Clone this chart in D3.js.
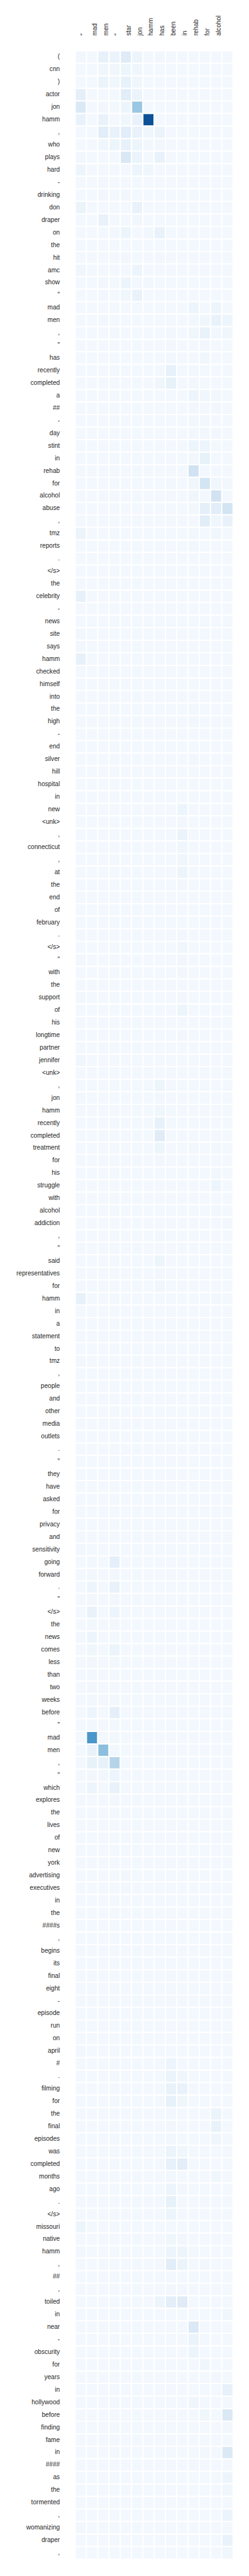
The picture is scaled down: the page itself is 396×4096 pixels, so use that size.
<!DOCTYPE html>
<html><head><meta charset="utf-8">
<script src="https://cdn.jsdelivr.net/npm/d3@7"></script>
<style>html,body{margin:0;padding:0;background:#fff;} svg{display:block;}</style>
</head><body><div id="chart"></div>
<script>
// Columns: summary tokens (last one has no visible label)
const colLabels = ["\"", "mad", "men", "\"", "star", "jon", "hamm", "has", "been", "in", "rehab", "for", "alcohol", ""];

// Rows: source article tokens
const rowLabels = ["(", "cnn", ")", "actor", "jon", "hamm", ",", "who", "plays", "hard",
"-", "drinking", "don", "draper", "on", "the", "hit", "amc", "show", "\"",
"mad", "men", ",", "\"", "has", "recently", "completed", "a", "##", "-",
"day", "stint", "in", "rehab", "for", "alcohol", "abuse", ",", "tmz", "reports",
".", "</s>", "the", "celebrity", "-", "news", "site", "says", "hamm", "checked",
"himself", "into", "the", "high", "-", "end", "silver", "hill", "hospital", "in",
"new", "<unk>", ",", "connecticut", ",", "at", "the", "end", "of", "february",
".", "</s>", "\"", "with", "the", "support", "of", "his", "longtime", "partner",
"jennifer", "<unk>", ",", "jon", "hamm", "recently", "completed", "treatment", "for", "his",
"struggle", "with", "alcohol", "addiction", ",", "\"", "said", "representatives", "for", "hamm",
"in", "a", "statement", "to", "tmz", ",", "people", "and", "other", "media",
"outlets", ".", "\"", "they", "have", "asked", "for", "privacy", "and", "sensitivity",
"going", "forward", ".", "\"", "</s>", "the", "news", "comes", "less", "than",
"two", "weeks", "before", "\"", "mad", "men", ",", "\"", "which", "explores",
"the", "lives", "of", "new", "york", "advertising", "executives", "in", "the", "####s",
",", "begins", "its", "final", "eight", "-", "episode", "run", "on", "april",
"#", ".", "filming", "for", "the", "final", "episodes", "was", "completed", "months",
"ago", ".", "</s>", "missouri", "native", "hamm", ",", "##", ",", "toiled",
"in", "near", "-", "obscurity", "for", "years", "in", "hollywood", "before", "finding",
"fame", "in", "####", "as", "the", "tormented", ",", "womanizing", "draper", ","];

// Attention weights (percent), one row per source token, one entry per column
const weights = [
[3,2,8,6,12,5,2,3,2,2,2,2,2,2],
[2,2,4,4,5,4,2,2,2,2,2,2,2,2],
[2,2,6,4,8,4,2,2,2,2,2,2,2,2],
[9,2,2,2,11,6,2,2,2,2,2,2,2,2],
[14,2,3,2,5,38,2,2,2,2,2,2,2,2],
[7,2,7,2,4,7,88,2,2,2,2,2,2,2],
[2,2,11,7,11,7,4,6,2,2,2,2,2,2],
[2,2,4,5,8,5,3,3,2,2,2,2,2,2],
[3,2,2,2,15,6,2,7,2,2,2,2,2,2],
[5,2,2,2,2,5,4,2,2,2,2,2,2,2],
[2,2,3,2,2,2,2,2,2,2,2,2,2,2],
[2,2,3,2,3,2,2,2,2,2,2,2,2,2],
[6,2,2,2,2,7,2,2,2,2,2,2,2,2],
[2,2,7,2,2,3,2,2,2,2,2,2,2,2],
[2,2,2,3,5,2,3,7,2,2,2,2,2,2],
[2,2,2,2,2,2,2,2,2,2,2,2,2,2],
[2,2,2,2,3,2,2,3,2,2,2,2,2,2],
[4,2,2,2,2,5,2,2,2,2,2,2,2,2],
[2,2,3,2,5,2,3,2,2,2,2,2,2,2],
[2,2,3,2,4,7,2,2,2,2,2,2,2,2],
[2,2,2,2,2,2,2,2,2,2,5,2,5,2],
[2,2,3,2,2,2,2,2,2,2,3,4,7,5],
[2,2,2,3,2,2,2,2,3,2,4,7,3,4],
[2,2,2,2,2,2,2,2,3,2,2,3,2,2],
[2,2,2,2,2,2,2,2,3,2,2,4,2,2],
[2,2,2,2,2,2,2,2,8,2,3,2,2,2],
[2,2,2,2,2,2,2,4,8,2,3,2,2,2],
[2,2,2,2,2,2,2,2,2,2,5,4,3,2],
[2,2,2,2,2,2,2,2,2,2,3,2,3,2],
[2,2,2,2,2,2,2,2,2,2,3,3,2,2],
[2,2,2,2,2,2,2,2,2,2,3,3,3,2],
[2,2,2,2,2,2,2,2,2,2,5,5,2,2],
[2,2,2,2,2,2,2,2,2,2,3,8,2,2],
[2,2,2,2,2,2,2,2,2,2,19,2,2,2],
[2,2,2,2,2,2,2,2,3,2,4,18,4,3],
[2,2,2,2,2,2,2,2,2,2,4,2,19,2],
[2,2,2,2,2,2,2,2,2,2,3,9,11,18],
[2,2,2,2,2,2,2,2,2,2,2,11,4,7],
[6,2,2,2,2,2,2,2,2,2,3,2,4,2],
[2,2,2,2,2,2,2,2,2,2,3,2,2,2],
[2,2,2,2,2,2,2,2,2,2,2,2,2,2],
[2,2,2,2,2,2,2,2,2,2,2,2,2,2],
[2,2,2,2,2,2,2,2,2,2,2,2,2,2],
[8,2,2,2,2,2,2,2,2,2,2,2,2,2],
[2,2,2,2,2,2,2,2,2,2,2,2,2,2],
[2,2,2,2,2,2,2,2,2,2,2,2,2,2],
[3,2,2,2,2,2,2,2,2,2,2,2,2,2],
[3,2,2,2,2,2,2,2,2,2,2,2,2,2],
[8,2,2,2,2,2,2,2,2,2,2,2,2,2],
[2,2,2,2,2,2,2,2,2,2,2,2,2,2],
[2,2,2,2,2,2,2,2,2,2,2,2,2,2],
[2,2,2,2,2,2,2,2,2,2,2,2,2,2],
[2,2,2,2,2,2,2,2,2,2,3,2,2,2],
[2,2,2,2,2,2,2,2,2,2,3,2,2,2],
[2,2,2,2,2,2,2,2,2,2,2,2,2,2],
[2,2,2,2,2,2,2,2,2,2,2,2,2,2],
[2,2,2,2,2,2,2,2,2,2,3,2,2,2],
[2,2,2,2,2,2,2,2,2,2,2,2,2,2],
[2,2,2,2,2,2,2,2,2,2,2,2,2,2],
[2,2,2,2,2,2,2,2,2,2,2,2,2,2],
[2,2,2,2,2,2,2,2,2,5,2,2,2,2],
[2,2,2,2,2,2,2,2,2,3,2,2,2,2],
[2,2,2,2,2,2,2,2,2,6,2,2,2,2],
[2,2,2,2,2,2,2,2,2,4,2,2,2,2],
[2,2,2,2,2,2,2,2,2,4,2,2,2,2],
[2,2,2,2,2,2,2,2,2,5,2,2,2,2],
[2,2,2,2,2,2,2,2,2,3,2,2,2,2],
[2,2,2,2,2,2,2,2,2,2,2,2,2,2],
[2,2,2,2,2,2,2,2,2,2,2,2,2,2],
[2,2,2,2,2,2,2,2,2,2,2,2,2,2],
[2,2,2,2,2,2,2,2,2,3,2,2,2,2],
[2,2,2,2,2,2,2,2,2,4,2,2,2,2],
[3,2,2,2,2,2,2,2,2,3,2,2,2,2],
[2,2,2,2,2,2,2,2,2,3,2,2,2,2],
[2,2,2,2,2,2,2,2,2,2,2,2,2,2],
[3,2,2,2,2,2,2,2,2,3,2,2,2,2],
[2,2,2,2,2,2,2,2,2,5,2,2,2,2],
[2,2,2,2,2,2,2,2,2,2,2,2,2,2],
[2,2,2,2,2,2,2,2,2,3,2,2,2,2],
[2,2,2,2,2,2,2,2,2,2,2,2,2,2],
[4,2,2,2,2,2,2,2,2,2,2,2,2,2],
[2,2,2,2,2,2,2,2,2,2,2,2,2,2],
[2,2,2,2,2,2,2,5,2,2,2,2,2,2],
[3,2,2,2,2,2,2,3,2,2,2,2,2,2],
[2,2,2,2,2,2,2,4,2,2,2,2,2,2],
[2,2,2,2,2,2,2,8,2,2,2,2,2,2],
[2,2,2,2,2,2,2,12,2,2,2,2,2,2],
[2,2,2,2,2,2,2,5,2,2,3,2,3,2],
[2,2,2,2,2,2,2,3,2,2,2,2,2,2],
[2,2,2,2,2,2,2,2,2,2,2,2,3,2],
[2,2,2,2,2,2,2,2,2,2,2,2,5,2],
[2,2,2,2,2,2,2,2,2,2,2,2,2,2],
[2,2,2,2,2,2,2,2,2,2,2,2,3,2],
[2,2,2,2,2,2,2,2,2,2,2,2,2,3],
[2,2,2,2,2,2,2,3,2,2,2,2,2,2],
[2,2,2,2,2,2,2,2,2,2,2,2,2,2],
[2,2,2,2,2,2,2,5,2,2,2,2,2,2],
[2,2,2,2,2,2,2,3,2,2,2,2,2,2],
[2,2,2,2,2,2,2,4,2,2,2,2,2,2],
[8,2,2,2,2,2,2,2,2,2,2,2,3,2],
[2,2,2,2,2,2,2,2,2,2,2,2,2,2],
[2,2,2,2,2,2,2,2,2,2,2,2,2,2],
[2,2,2,2,2,2,2,2,2,2,2,2,2,2],
[2,2,2,2,2,2,2,2,2,2,2,2,2,2],
[3,2,2,2,2,2,2,2,2,2,2,2,2,2],
[2,2,2,2,2,2,2,2,2,2,2,2,2,2],
[2,2,2,2,2,2,2,2,2,2,2,2,2,2],
[2,2,2,2,2,2,2,2,2,2,2,2,2,2],
[2,2,2,2,2,2,2,2,2,2,2,2,2,2],
[2,2,2,2,2,2,2,2,2,2,2,2,2,2],
[2,2,2,2,2,2,2,2,2,2,2,2,2,2],
[2,2,2,2,2,2,2,2,2,2,2,2,2,2],
[2,2,2,2,2,2,2,2,2,2,2,2,2,2],
[2,2,2,2,2,2,2,2,2,2,2,2,2,2],
[2,2,2,2,2,2,2,2,2,2,2,2,2,2],
[2,2,2,2,2,2,2,2,2,2,2,2,2,2],
[2,2,2,2,2,2,2,2,2,2,2,2,2,2],
[2,2,2,2,2,2,2,2,2,2,2,2,2,2],
[2,2,2,2,2,2,2,2,2,2,2,2,2,2],
[3,2,2,2,2,2,2,2,2,2,2,2,2,2],
[2,3,2,9,2,2,2,2,2,2,2,2,2,2],
[2,3,2,3,2,2,2,2,2,2,2,2,2,2],
[2,5,2,7,2,2,2,2,2,2,2,2,2,2],
[2,3,2,3,2,2,2,2,2,2,2,2,2,2],
[2,7,2,5,2,2,2,2,2,2,2,2,2,2],
[2,3,2,3,2,2,2,2,2,2,2,2,2,2],
[3,5,2,2,2,2,2,2,2,2,2,2,2,2],
[2,4,2,6,2,2,2,2,2,2,2,2,2,2],
[2,3,2,3,2,2,2,2,2,2,2,2,2,2],
[2,3,2,2,2,2,2,2,2,2,2,2,2,2],
[2,3,2,2,2,2,2,2,2,2,2,2,2,2],
[2,3,2,3,2,2,2,2,2,2,2,2,2,2],
[2,5,2,9,2,2,2,2,2,2,2,2,2,2],
[2,3,2,3,2,2,2,2,2,2,2,2,2,2],
[2,60,2,3,2,2,2,2,2,2,2,2,2,2],
[2,7,42,3,2,2,2,2,2,2,2,2,2,2],
[2,8,8,30,2,2,2,2,2,2,2,2,2,2],
[2,3,3,5,2,2,2,2,2,2,2,2,2,2],
[2,5,2,7,2,2,2,2,2,2,2,2,2,2],
[2,2,2,3,2,2,2,2,2,2,2,2,2,2],
[2,2,2,2,2,2,2,2,2,2,2,2,2,2],
[2,2,2,2,2,2,2,2,2,2,2,2,2,2],
[2,2,2,2,2,2,2,2,2,2,2,2,2,2],
[2,2,2,2,2,2,2,2,2,2,2,2,2,2],
[2,2,2,2,2,2,2,2,2,2,2,2,2,2],
[2,2,2,2,3,2,2,2,2,2,2,2,2,2],
[2,2,2,2,3,2,2,2,2,2,2,2,2,2],
[2,2,2,2,2,2,2,2,2,2,2,2,2,2],
[2,2,2,2,2,2,2,2,2,2,2,2,2,2],
[2,2,2,2,2,2,2,2,2,2,2,2,2,2],
[2,2,2,2,2,2,2,2,2,2,2,2,2,2],
[2,2,2,2,2,2,2,2,2,2,2,2,2,2],
[2,2,2,2,2,2,2,2,2,2,2,2,2,2],
[2,2,2,2,2,2,2,2,2,2,2,2,2,2],
[2,2,2,2,2,2,2,2,2,2,2,2,2,2],
[2,2,2,2,2,2,2,2,2,2,2,2,2,2],
[2,2,2,2,2,2,2,2,2,2,2,2,2,2],
[2,2,2,2,2,2,2,2,2,2,2,2,2,2],
[2,2,2,2,2,2,2,2,2,2,2,2,2,2],
[3,2,2,2,2,2,2,2,2,2,2,2,2,2],
[2,2,2,2,2,2,2,2,5,2,2,2,2,2],
[2,2,2,2,2,2,2,2,6,4,2,2,2,2],
[2,2,2,2,2,2,2,2,7,7,2,2,2,2],
[2,2,2,2,2,2,2,2,8,4,2,2,2,2],
[2,2,2,2,2,2,2,2,3,2,2,2,6,2],
[2,2,2,2,2,2,2,2,3,2,2,2,7,2],
[2,2,2,2,2,2,2,2,3,2,2,2,4,2],
[2,2,2,2,2,2,2,2,6,4,2,2,2,2],
[2,2,2,2,2,2,2,2,8,10,2,2,2,2],
[2,2,2,2,2,2,2,2,3,2,2,2,4,2],
[2,2,2,2,2,2,2,2,5,3,2,2,2,2],
[2,2,2,2,2,2,2,2,8,2,2,2,2,2],
[2,2,2,2,2,2,2,2,5,2,2,2,2,2],
[5,2,2,2,2,2,2,2,2,2,2,2,2,2],
[2,2,2,2,2,2,2,2,4,3,2,2,2,2],
[3,2,2,2,2,2,2,2,5,5,3,2,2,2],
[2,2,2,2,2,2,2,2,11,6,2,3,2,2],
[2,2,2,2,2,2,2,2,2,2,2,2,2,2],
[2,2,2,2,2,2,2,2,3,3,2,2,2,2],
[2,2,2,2,2,2,2,5,10,12,2,2,2,2],
[2,2,2,2,2,2,2,2,2,2,2,2,2,4],
[2,2,2,2,2,2,2,2,2,2,14,2,2,2],
[2,2,2,2,2,2,2,2,2,2,6,2,2,2],
[2,2,2,2,2,2,2,2,2,2,5,2,2,2],
[2,2,2,2,2,2,2,2,2,2,2,4,2,2],
[2,2,2,2,2,2,2,2,2,2,2,2,3,2],
[2,2,2,2,2,2,2,2,2,2,2,2,2,8],
[2,2,2,2,2,2,2,2,2,2,4,2,2,2],
[2,2,2,2,2,2,2,2,2,2,2,4,2,14],
[2,2,2,2,2,2,2,2,2,2,2,2,2,3],
[2,2,2,2,2,2,2,2,2,2,2,2,2,2],
[2,2,2,2,2,2,2,2,2,2,2,3,2,14],
[2,2,2,2,2,2,2,2,2,2,3,2,2,2],
[2,2,2,2,2,2,2,2,2,2,2,2,2,5],
[2,2,2,2,2,2,2,2,2,2,2,2,2,4],
[2,2,2,2,2,2,2,2,2,2,2,2,2,2],
[2,2,2,2,2,2,2,2,2,2,2,2,2,6],
[3,2,2,2,2,2,2,2,2,2,2,2,2,2],
[2,2,2,2,2,2,2,2,2,2,2,2,2,7],
[2,2,2,2,2,2,2,2,2,2,2,2,2,4]
];

const k = 0.831;
const W = 396, H = 4096;
const fontPx = 12.2 * k;

const svg = d3.select("#chart").append("svg")
  .attr("width", W).attr("height", H)
  .style("background", "#fff");

const colIdx = d3.range(colLabels.length);
const rowIdx = d3.range(rowLabels.length);

const x = d3.scaleBand().domain(colIdx).range([143.9 * k, 446.1 * k]).padding(0);
const y = d3.scaleBand().domain(rowIdx).range([97.2 * k, 4896.8 * k]).padding(0);
const color = d3.scaleSequential(d3.interpolateBlues).domain([0, 100]);

const cells = [];
weights.forEach((row, i) => row.forEach((v, j) => cells.push({ i, j, v })));

svg.append("g").selectAll("rect")
  .data(cells)
  .join("rect")
  .attr("x", d => x(d.j))
  .attr("y", d => y(d.i))
  .attr("width", x.bandwidth())
  .attr("height", y.bandwidth())
  .attr("fill", d => color(d.v))
  .attr("stroke", "#fff")
  .attr("stroke-width", 2.3 * k);

// Row labels (left axis)
const yAxis = svg.append("g")
  .attr("transform", `translate(${x.range()[0]},0)`)
  .call(d3.axisLeft(y).tickSize(0).tickPadding(x.range()[0] - 114.5 * k).tickFormat(i => rowLabels[i]));
yAxis.select(".domain").remove();
yAxis.attr("font-family", "'Liberation Sans', Arial, sans-serif").attr("font-size", fontPx);
yAxis.selectAll("text").attr("fill", "#262626").attr("dy", "0.27em");

// Column labels (top axis, rotated)
const xAxis = svg.append("g")
  .attr("transform", `translate(0,${68.3 * k})`)
  .call(d3.axisTop(x).tickSize(0).tickFormat(j => colLabels[j]));
xAxis.select(".domain").remove();
xAxis.attr("font-family", "'Liberation Sans', Arial, sans-serif").attr("font-size", fontPx);
xAxis.selectAll("text")
  .attr("fill", "#262626")
  .attr("x", 0).attr("y", 0)
  .attr("transform", "rotate(-90)")
  .attr("text-anchor", "start")
  .attr("dy", "0.72em");
</script>
</body></html>
